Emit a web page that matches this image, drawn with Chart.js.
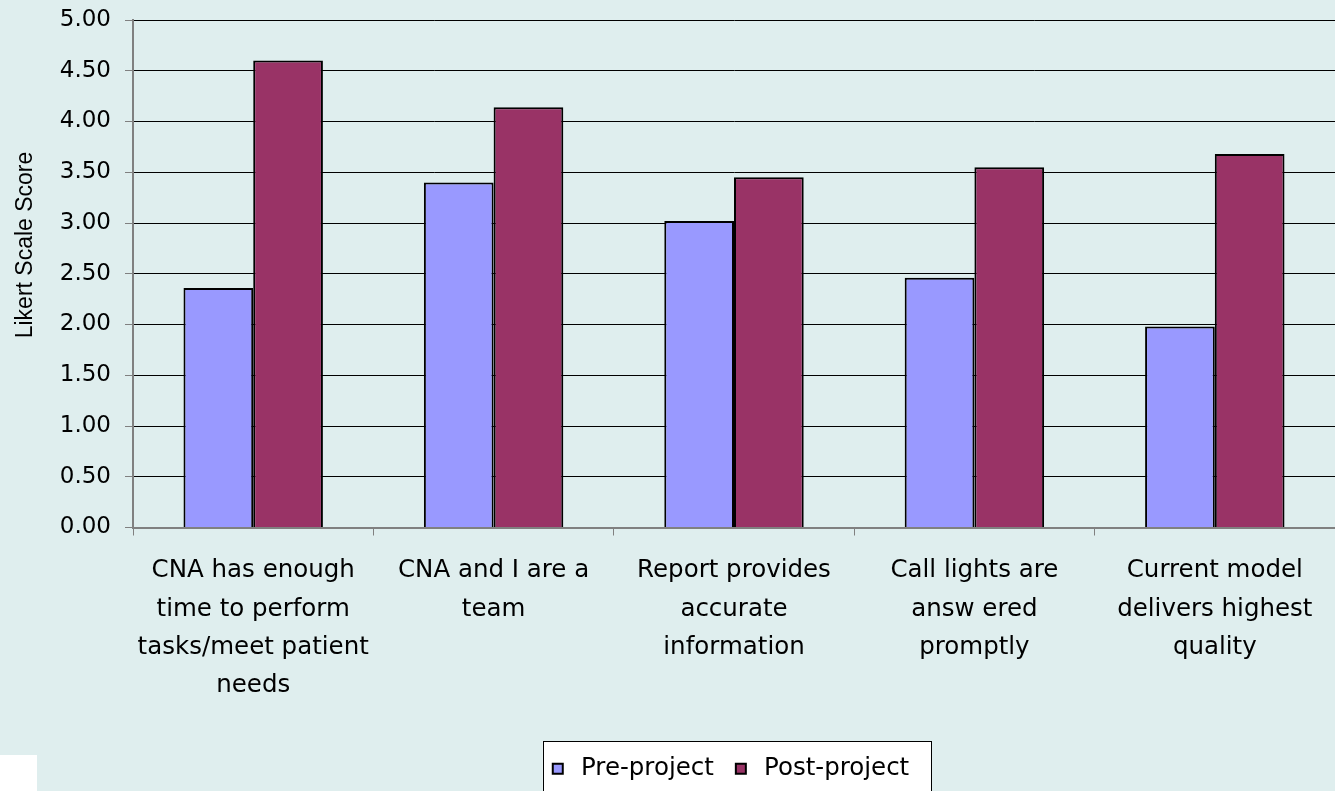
<!DOCTYPE html>
<html>
<head>
<meta charset="utf-8">
<script src="https://cdn.jsdelivr.net/npm/chart.js@4.4.1/dist/chart.umd.min.js"></script>
<style>
  html, body { margin: 0; padding: 0; overflow: hidden; background: #dfeeee; }
  #wrap { position: relative; width: 1335px; height: 791px; }
  #patch { position: absolute; left: 0; top: 755px; width: 37px; height: 36px; background: #fff; }
</style>
</head>
<body>
<div id="wrap">
  <canvas id="likert-chart" width="1335" height="791"></canvas>
  <div id="patch"></div>
</div>
<script>
// Survey questions (x axis), split in lines as in the original chart
const categories = [
    ["CNA has enough", "time to perform", "tasks/meet patient", "needs"],
    ["CNA and I are a", "team"],
    ["Report provides", "accurate", "information"],
    ["Call lights are", "answ ered", "promptly"],
    ["Current model", "delivers highest", "quality"]
];

// Mean Likert scores
const preProject = [2.36, 3.40, 3.02, 2.46, 1.98];
const postProject = [4.60, 4.14, 3.45, 3.55, 3.68];

// Y axis ticks
const yTicks = [0, 0.5, 1, 1.5, 2, 2.5, 3, 3.5, 4, 4.5, 5];

const preColor = '#9999ff';
const postColor = '#993366';

// legend sits centred under the plot, not under the whole canvas
const legendShift = {
    id: 'legendShift',
    afterLayout(chart) {
        const lg = chart.legend;
        if (!lg) return;
        const a = chart.chartArea;
        const dx = (a.left + a.right) / 2 - (lg.left + lg.right) / 2 - 6;
        lg.left += dx;
        lg.right += dx;
        (lg.legendHitBoxes || []).forEach(b => { b.left += dx; });
    }
};

// White framed box behind the legend
const legendFrame = {
    id: 'legendFrame',
    beforeDraw(chart) {
        const lg = chart.legend;
        if (!lg || !lg.legendHitBoxes || !lg.legendHitBoxes.length) return;
        const boxes = lg.legendHitBoxes;
        const left = Math.min(...boxes.map(b => b.left)) - 4;
        const right = Math.max(...boxes.map(b => b.left + b.width)) + 22;
        const mid = boxes[0].top + boxes[0].height / 2;
        const top = Math.round(mid - 28);
        const ctx = chart.ctx;
        ctx.save();
        ctx.fillStyle = '#ffffff';
        ctx.fillRect(left, top, right - left, chart.height - top + 10);
        ctx.strokeStyle = '#000000';
        ctx.lineWidth = 1;
        ctx.strokeRect(Math.round(left) + 0.5, top + 0.5, Math.round(right - left), chart.height - top + 10);
        ctx.restore();
    }
};

new Chart('likert-chart', {
    type: 'bar',
    data: {
        labels: categories,
        datasets: [{
            label: 'Pre-project',
            data: preProject,
            backgroundColor: preColor,
            borderColor: '#000',
            borderWidth: 2,
            borderSkipped: 'bottom'
        }, {
            label: 'Post-project',
            data: postProject,
            backgroundColor: postColor,
            borderColor: '#000',
            borderWidth: 2,
            borderSkipped: 'bottom'
        }]
    },
    options: {
        responsive: false,
        animation: false,
        layout: { padding: { top: 20, right: 0, left: 0, bottom: 0 } },
        datasets: {
            bar: { categoryPercentage: 0.58, barPercentage: 1.0 }
        },
        plugins: {
            tooltip: { enabled: false },
            legend: {
                position: 'bottom',
                labels: {
                    color: '#000',
                    font: { family: 'DejaVu Sans', size: 24.5 },
                    usePointStyle: true,
                    pointStyle: 'rect',
                    boxWidth: 22,
                    boxHeight: 10,
                    padding: 16
                }
            }
        },
        scales: {
            x: {
                grid: {
                    offset: true,
                    drawOnChartArea: false,
                    tickLength: 8,
                    tickColor: '#808080'
                },
                border: { color: '#808080', width: 2 },
                ticks: {
                    color: '#000',
                    maxRotation: 0,
                    autoSkip: false,
                    padding: 16,
                    font: { family: 'DejaVu Sans', size: 24.5, lineHeight: 1.57 }
                },
                afterFit(scale) { scale.height = 213; }
            },
            y: {
                min: 0,
                max: 5,
                afterBuildTicks(scale) { scale.ticks = yTicks.map(v => ({ value: v })); },
                grid: {
                    color: '#000',
                    lineWidth: 1,
                    tickLength: 8,
                    tickColor: '#808080'
                },
                border: { color: '#808080', width: 2 },
                ticks: {
                    color: '#000',
                    padding: 14,
                    font: { family: 'DejaVu Sans', size: 23 },
                    callback: v => Number(v).toFixed(2)
                },
                title: {
                    display: true,
                    text: '         Likert Scale Score',
                    color: '#000',
                    font: { family: 'Liberation Sans', size: 23 },
                    padding: { top: 12, bottom: 0 }
                },
                afterFit(scale) {
                    scale.width = 133;
                    scale.paddingTop = 0;
                    scale.paddingBottom = 0;
                }
            }
        }
    },
    plugins: [legendShift, legendFrame]
});
</script>
</body>
</html>
